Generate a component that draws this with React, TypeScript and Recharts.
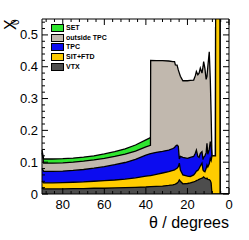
import { AreaChart, Area, XAxis, YAxis, Legend } from 'recharts'

// polar angle in degrees (bins, 90 -> 0)
const THETA = [
  90, 89.2, 85, 80, 75, 70, 65, 60, 55, 50, 45, 40, 37.8, 37.7, 35, 32, 29, 27,
  26.2, 25.8, 25, 24.4, 23.9, 23.4, 22.2, 20, 18.6, 17, 16.2, 15.7, 15, 14.4,
  13.8, 13, 12.5, 12.2, 11.6, 11, 10.6, 10.2, 9.5, 9, 8.6, 8.2, 6.5, 6.4, 4.4,
  4.3, 0,
]

// cumulative X0 (ROOT stack: each layer drawn as sum of itself + layers below)
const VTX = [
  0.02, 0.016, 0.016, 0.016, 0.017, 0.017, 0.018, 0.018, 0.019, 0.02, 0.021,
  0.022, 0.023, 0.023, 0.024, 0.025, 0.027, 0.029, 0.03, 0.031, 0.034, 0.038,
  0.044, 0.04, 0.032, 0.033, 0.035, 0.038, 0.04, 0.042, 0.044, 0.046, 0.048,
  0.05, 0.052, 0.054, 0.05, 0.048, 0.05, 0.046, 0.045, 0.042, 0.035, 0, 0, 0,
  0, 0, 0,
]
const SIT_FTD = [
  0.04, 0.035, 0.035, 0.036, 0.037, 0.038, 0.04, 0.042, 0.044, 0.047, 0.051,
  0.056, 0.058, 0.058, 0.062, 0.066, 0.07, 0.074, 0.076, 0.078, 0.081, 0.086,
  0.097, 0.075, 0.06, 0.056, 0.055, 0.06, 0.066, 0.072, 0.074, 0.08, 0.088,
  0.097, 0.075, 0.072, 0.07, 0.08, 0.091, 0.085, 0.095, 0.112, 0.105, 0.12,
  0.12, 0.8, 0.8, 0, 0,
]
const TPC = [
  0.08, 0.071, 0.071, 0.072, 0.074, 0.077, 0.081, 0.086, 0.092, 0.099, 0.109,
  0.122, 0.127, 0.127, 0.131, 0.134, 0.138, 0.143, 0.146, 0.15, 0.154, 0.15,
  0.11, 0.118, 0.115, 0.112, 0.115, 0.118, 0.128, 0.138, 0.118, 0.115, 0.128,
  0.133, 0.108, 0.115, 0.12, 0.13, 0.159, 0.125, 0.14, 0.165, 0.15, 0.12, 0.12,
  0.8, 0.8, 0, 0,
]
const OUTSIDE_TPC = [
  0.13, 0.097, 0.097, 0.098, 0.1, 0.103, 0.107, 0.112, 0.118, 0.125, 0.135,
  0.148, 0.153, 0.42, 0.419, 0.419, 0.418, 0.416, 0.416, 0.406, 0.405, 0.39,
  0.38, 0.37, 0.356, 0.356, 0.357, 0.358, 0.372, 0.385, 0.375, 0.38, 0.396,
  0.38, 0.4, 0.416, 0.395, 0.36, 0.37, 0.4, 0.447, 0.36, 0.25, 0.12, 0.12, 0.8,
  0.8, 0, 0,
]
const SET = [
  0.138, 0.11, 0.11, 0.111, 0.113, 0.116, 0.12, 0.126, 0.133, 0.142, 0.154,
  0.17, 0.177,
]

const X_TICKS = [
  0, 4, 8, 12, 16, 20, 24, 28, 32, 36, 40, 44, 48, 52, 56, 60, 64, 68, 72, 76,
  80, 84, 88,
]
const X_LABELS = [0, 20, 40, 60, 80]
const Y_TICKS = [
  0, 0.02, 0.04, 0.06, 0.08, 0.1, 0.12, 0.14, 0.16, 0.18, 0.2, 0.22, 0.24,
  0.26, 0.28, 0.3, 0.32, 0.34, 0.36, 0.38, 0.4, 0.42, 0.44, 0.46, 0.48, 0.5,
  0.52, 0.54,
]
const Y_LABELS = [0, 0.1, 0.2, 0.3, 0.4, 0.5]

const LAYERS = [
  { key: 'set', name: 'SET', color: '#2fe62f' },
  { key: 'outside', name: 'outside TPC', color: '#c1b8ae' },
  { key: 'tpc', name: 'TPC', color: '#0c0cf0' },
  { key: 'sitftd', name: 'SIT+FTD', color: '#ffcc00' },
  { key: 'vtx', name: 'VTX', color: '#4d4d4d' },
]

const FONT = '"Liberation Sans", Arial, Helvetica, sans-serif'

const data = THETA.map((theta, i) => ({
  theta,
  vtx: VTX[i],
  sitftd: SIT_FTD[i],
  tpc: TPC[i],
  outside: OUTSIDE_TPC[i],
  set: i < SET.length ? SET[i] : null,
}))

const isYLabel = (v: number) => Y_LABELS.some((l) => Math.abs(l - v) < 1e-9)

function BottomTick({ x, y, payload }: any) {
  const major = X_LABELS.includes(payload.value)
  return (
    <g>
      <line x1={x} x2={x} y1={y} y2={y - (major ? 6 : 3)} stroke="#000" />
      {major && (
        <text x={x} y={y + 15} textAnchor="middle" fontSize={13} fontFamily={FONT} fill="#000">
          {payload.value}
        </text>
      )}
    </g>
  )
}

function TopTick({ x, y, payload }: any) {
  const major = X_LABELS.includes(payload.value)
  return <line x1={x} x2={x} y1={y} y2={y + (major ? 6 : 3)} stroke="#000" />
}

function LeftTick({ x, y, payload }: any) {
  const major = isYLabel(payload.value)
  return (
    <g>
      <line x1={x} x2={x + (major ? 6 : 3)} y1={y} y2={y} stroke="#000" />
      {major && (
        <text x={x - 4} y={y + 4.5} textAnchor="end" fontSize={13} fontFamily={FONT} fill="#000">
          {payload.value === 0 ? '0' : payload.value.toFixed(1)}
        </text>
      )}
    </g>
  )
}

function RightTick({ x, y, payload }: any) {
  const major = isYLabel(payload.value)
  return <line x1={x} x2={x - (major ? 6 : 3)} y1={y} y2={y} stroke="#000" />
}

function LegendBox() {
  return (
    <div style={{ fontFamily: FONT, fontSize: 7, fontWeight: 'bold', lineHeight: '9.7px' }}>
      {LAYERS.map((l) => (
        <div key={l.key} style={{ display: 'flex', alignItems: 'center', height: 9.7 }}>
          <div
            style={{
              width: 11,
              height: 6,
              background: l.color,
              border: '1px solid #000',
              marginRight: 2,
            }}
          />
          <span>{l.name}</span>
        </div>
      ))}
    </div>
  )
}

export default function App() {
  return (
    <div style={{ position: 'absolute', left: 0, top: 0, width: 249, height: 240, background: '#fff' }}>
      <AreaChart width={249} height={240} data={data} margin={{ top: 18, right: 19, bottom: 0, left: 0 }}>
        <XAxis
          dataKey="theta"
          type="number"
          domain={[0, 90]}
          reversed
          ticks={X_TICKS}
          interval={0}
          height={46}
          tickSize={0}
          tickMargin={0}
          tickLine={false}
          axisLine={{ stroke: '#000' }}
          tick={<BottomTick />}
        />
        <XAxis
          xAxisId="top"
          dataKey="theta"
          orientation="top"
          type="number"
          domain={[0, 90]}
          reversed
          ticks={X_TICKS}
          interval={0}
          height={1}
          tickSize={0}
          tickMargin={0}
          tickLine={false}
          axisLine={{ stroke: '#000' }}
          tick={<TopTick />}
        />
        <YAxis
          type="number"
          domain={[0, 0.55]}
          allowDataOverflow
          ticks={Y_TICKS}
          interval={0}
          width={42}
          tickSize={0}
          tickMargin={0}
          tickLine={false}
          axisLine={{ stroke: '#000' }}
          tick={<LeftTick />}
        />
        <YAxis
          yAxisId="right"
          orientation="right"
          type="number"
          domain={[0, 0.55]}
          allowDataOverflow
          ticks={Y_TICKS}
          interval={0}
          width={1}
          tickSize={0}
          tickMargin={0}
          tickLine={false}
          axisLine={{ stroke: '#000' }}
          tick={<RightTick />}
        />
        <Legend
          layout="horizontal"
          verticalAlign="middle"
          content={() => <LegendBox />}
          wrapperStyle={{ top: 23, left: 51, width: 'auto', height: 'auto' }}
        />
        {LAYERS.map((l) => (
          <Area
            key={l.key}
            type="linear"
            dataKey={l.key}
            name={l.name}
            stroke="#000"
            strokeWidth={1.3}
            fill={l.color}
            fillOpacity={1}
            dot={false}
            activeDot={false}
            isAnimationActive={false}
          />
        ))}
        {/* invisible series so the frame axes (top / right) get drawn */}
        <Area
          xAxisId="top"
          yAxisId="right"
          type="linear"
          dataKey="vtx"
          stroke="none"
          fill="none"
          legendType="none"
          dot={false}
          activeDot={false}
          isAnimationActive={false}
        />
        <text x={15.5} y={30} transform="rotate(-90 15.5 30)" fontSize={16} fontFamily={FONT} fill="#000">
          X
        </text>
        <text x={19} y={25} transform="rotate(-90 19 25)" fontSize={10} fontFamily={FONT} fill="#000">
          0
        </text>
        <text x={229} y={228} textAnchor="end" fontSize={16} fontFamily={FONT} fill="#000">
          θ / degrees
        </text>
      </AreaChart>
    </div>
  )
}
